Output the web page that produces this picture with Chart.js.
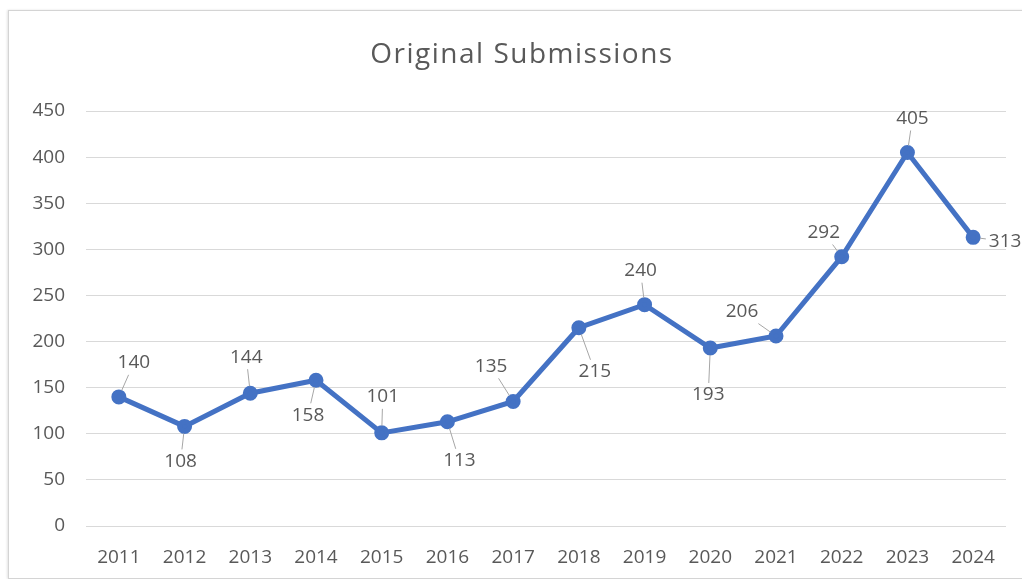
<!DOCTYPE html>
<html lang="en">
<head>
  <meta charset="UTF-8" />
  <title>Original Submissions</title>
  <script src="https://cdn.jsdelivr.net/npm/chart.js"></script>
  <style>
    html, body {
      margin: 0;
      padding: 0;
      background: #ffffff;
      overflow: hidden;
      width: 1022px;
      height: 579px;
    }
    .frame {
      position: absolute;
      left: 8px;
      top: 10px;
      width: 1026px;
      height: 567px;
      border: 1px solid #d4d4d4;
      border-right: none;
      box-shadow: -1px 0 2px #e4e4e4;
      background: #ffffff;
    }
  </style>
</head>
<body>

<div class="frame">
  <canvas id="subsChart"></canvas>
</div>

<script>
  const years = ['2011', '2012', '2013', '2014', '2015', '2016', '2017',
                 '2018', '2019', '2020', '2021', '2022', '2023', '2024'];
  const submissions = [140, 108, 144, 158, 101, 113, 135, 215, 240, 193, 206, 292, 405, 313];
  const yTicks = [0, 50, 100, 150, 200, 250, 300, 350, 400, 450];
  const chartTitle = 'Original Submissions';

  // where each value label sits relative to its point (px)
  const labelShift = [
    [15, -34], [-4, 35], [-4, -36], [-8, 35], [1, -36], [12, 39], [-22, -35],
    [16, 44], [-4, -34], [-2, 47], [-34, -24], [-18, -24], [5, -34], [32, 4]
  ];

  const textGrey = '#595959';
  const lineBlue = '#4472C4';
  const fontFamily = '"Open Sans", sans-serif';

  // title drawn by hand so it can be letter-spaced a little
  const spacedTitle = {
    id: 'spacedTitle',
    afterDraw(chart) {
      const ctx = chart.ctx;
      ctx.save();
      ctx.font = '28px ' + fontFamily;
      ctx.letterSpacing = '1.5px';
      ctx.fillStyle = textGrey;
      ctx.textAlign = 'center';
      ctx.textBaseline = 'alphabetic';
      ctx.fillText(chartTitle, chart.width / 2, 52);
      ctx.restore();
    }
  };

  // value labels with short leader lines
  const valueLabels = {
    id: 'valueLabels',
    afterDatasetsDraw(chart) {
      const ctx = chart.ctx;
      const meta = chart.getDatasetMeta(0);
      ctx.save();
      ctx.font = '19px ' + fontFamily;
      ctx.textAlign = 'center';
      ctx.textBaseline = 'middle';
      meta.data.forEach((pt, i) => {
        const [dx, dy] = labelShift[i];
        const lx = pt.x + dx, ly = pt.y + dy;
        const txt = String(submissions[i]);
        const hw = ctx.measureText(txt).width / 2 + 2;
        const hh = 11;
        const dist = Math.hypot(dx, dy);
        const ux = dx / dist, uy = dy / dist;
        // distance from label centre to its box edge along the leader direction
        const tBox = Math.min(ux ? hw / Math.abs(ux) : Infinity, uy ? hh / Math.abs(uy) : Infinity);
        const start = 7, end = dist - tBox - 1;
        if (end - start > 4) {
          ctx.strokeStyle = '#a6a6a6';
          ctx.lineWidth = 1;
          ctx.beginPath();
          ctx.moveTo(pt.x + ux * start, pt.y + uy * start);
          ctx.lineTo(pt.x + ux * end, pt.y + uy * end);
          ctx.stroke();
        }
        ctx.fillStyle = textGrey;
        ctx.fillText(txt, lx, ly);
      });
      ctx.restore();
    }
  };

  const ctx = document.getElementById('subsChart').getContext('2d');

  new Chart(ctx, {
    type: 'line',
    data: {
      labels: years,
      datasets: [{
        label: chartTitle,
        data: submissions,
        borderColor: lineBlue,
        backgroundColor: lineBlue,
        borderWidth: 5,
        pointRadius: 5,
        pointBackgroundColor: lineBlue,
        pointBorderColor: lineBlue,
        tension: 0
      }]
    },
    options: {
      responsive: true,
      maintainAspectRatio: false,
      animation: false,
      layout: { padding: { left: 0, right: 29, top: 100, bottom: 0 } },
      plugins: {
        legend: { display: false },
        tooltip: { enabled: false },
        title: { display: false }
      },
      scales: {
        x: {
          offset: true,
          grid: { display: false, drawTicks: false },
          border: { display: false },
          ticks: {
            color: textGrey,
            font: { family: fontFamily, size: 19 },
            padding: 20,
            maxRotation: 0
          },
          afterFit(scale) { scale.height = 52; }
        },
        y: {
          min: 0,
          max: 450,
          afterBuildTicks(scale) { scale.ticks = yTicks.map(v => ({ value: v })); },
          grid: { color: '#d9d9d9', lineWidth: 1, drawTicks: false },
          border: { display: false },
          ticks: {
            color: textGrey,
            font: { family: fontFamily, size: 19 },
            padding: 21
          },
          afterFit(scale) { scale.width = 77; }
        }
      }
    },
    plugins: [valueLabels, spacedTitle]
  });
</script>

</body>
</html>
